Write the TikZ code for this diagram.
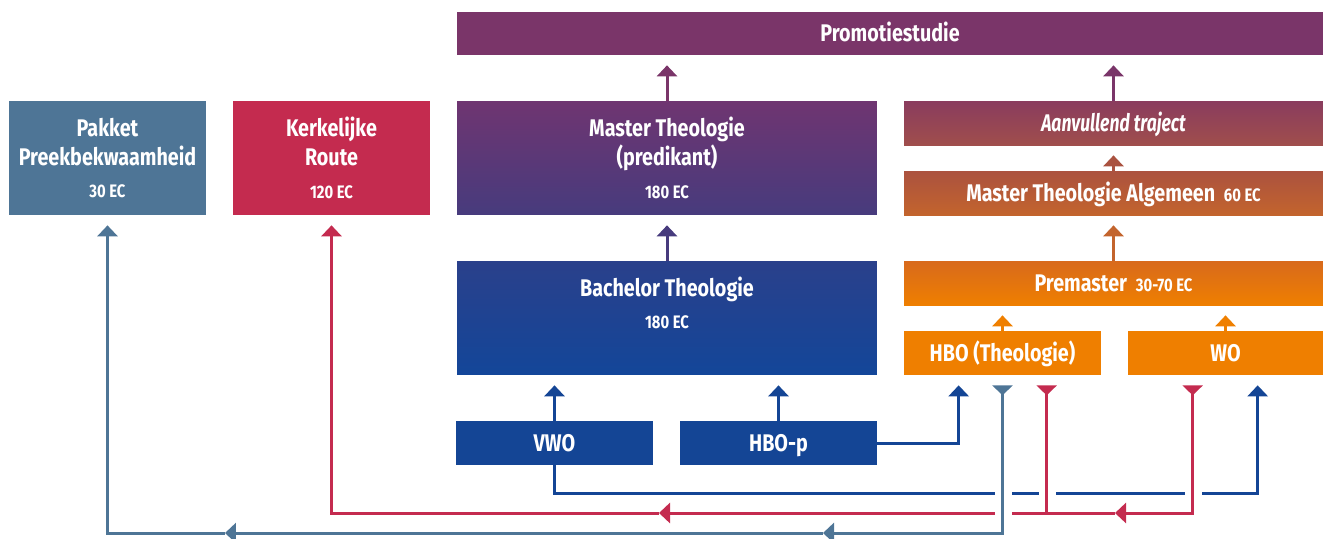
\documentclass[tikz,border=0pt]{standalone}
\usepackage{fontspec}
\setmainfont{Fira Sans}[FakeStretch=0.82]
\newfontfamily\aanvfont{Fira Sans}[FakeStretch=0.73]
\usetikzlibrary{arrows.meta,calc}

\definecolor{promo}{HTML}{7A3569}
\definecolor{steel}{HTML}{4E7596}
\definecolor{crimson}{HTML}{C42B4F}
\definecolor{mastertop}{HTML}{6F3571}
\definecolor{masterbot}{HTML}{473B7D}
\definecolor{bachtop}{HTML}{2A408B}
\definecolor{bachbot}{HTML}{134699}
\definecolor{vwoblue}{HTML}{144595}
\definecolor{aanvtop}{HTML}{8A3C5E}
\definecolor{aanvbot}{HTML}{A04E4C}
\definecolor{mtatop}{HTML}{AB523F}
\definecolor{mtabot}{HTML}{C3642D}
\definecolor{premtop}{HTML}{D86A1C}
\definecolor{hboorange}{HTML}{EF7F00}

\newcommand\ec[1]{{\fontsize{10.3}{12}\selectfont #1 EC}}

\tikzset{
  tri/.tip={Triangle[width=0.4cm,length=0.22cm]},
  rtri/.tip={Triangle[width=0.4cm,length=0.2cm,reversed]},
  box/.style={text=white, font=\bfseries\fontsize{13.7}{16.5}\selectfont,
    align=center, inner sep=0pt},
  bigbox/.style={box, minimum height=2.28cm},
  flatbox/.style={box, minimum height=0.88cm, text height=9.4pt, text depth=0pt},
  line/.style={line width=0.06cm},
  conn/.style={line, -tri, shorten >=0.2cm},
}

\begin{document}
\begin{tikzpicture}[x=0.02cm, y=-0.02cm]
  \useasboundingbox (0,0) rectangle (1323,538);

  % boxes
  \node[flatbox, fill=promo, minimum width=17.32cm, minimum height=0.86cm] (promo) at (890,33.5) {Promotiestudie};
  \node[bigbox, fill=steel, minimum width=3.94cm] (pakket) at (107.5,158) {Pakket\\Preekbekwaamheid\\[2pt]\ec{30}};
  \node[bigbox, fill=crimson, minimum width=3.94cm] (kerk) at (331.5,158) {Kerkelijke\\Route\\[2pt]\ec{120}};
  \node[bigbox, top color=mastertop, bottom color=masterbot, minimum width=8.4cm] (master) at (667,158) {Master Theologie\\(predikant)\\[2pt]\ec{180}};
  \node[bigbox, top color=bachtop, bottom color=bachbot, minimum width=8.4cm, text depth=17.6pt] (bach) at (667,318) {Bachelor Theologie\\[2pt]\ec{180}};
  \node[flatbox, fill=vwoblue, minimum width=3.94cm] (vwo) at (554.5,443) {VWO};
  \node[flatbox, fill=vwoblue, minimum width=3.94cm] (hbop) at (778.5,443) {HBO-p};
  \node[flatbox, top color=aanvtop, bottom color=aanvbot, minimum width=8.38cm, font=\aanvfont\bfseries\itshape\fontsize{13.7}{16.5}\selectfont] (aanv) at (1113.5,123) {Aanvullend traject};
  \node[flatbox, top color=mtatop, bottom color=mtabot, minimum width=8.38cm] (mta) at (1113.5,193) {Master Theologie Algemeen\hspace{5pt}\ec{60}};
  \node[flatbox, top color=premtop, bottom color=hboorange, minimum width=8.38cm] (prem) at (1113.5,283) {Premaster\hspace{5pt}\ec{30-70}};
  \node[flatbox, fill=hboorange, minimum width=3.94cm] (hbot) at (1002.5,353) {HBO (Theologie)};
  \node[flatbox, fill=hboorange, minimum width=3.9cm] (wo) at (1225.5,353) {WO};

  % upward connectors
  \draw[conn, promo] (master.north) -- (master.north |- promo.south);
  \draw[conn, promo] (aanv.north) -- (aanv.north |- promo.south);
  \draw[conn, masterbot] (bach.north) -- (master.south);
  \draw[conn, mtatop!90!aanvbot] (mta.north) -- (aanv.south);
  \draw[conn, mtabot] (prem.north) -- (mta.south);
  \draw[conn, hboorange] (hbot.north) -- (hbot.north |- prem.south);
  \draw[conn, hboorange] (wo.north) -- (wo.north |- prem.south);
  \draw[conn, vwoblue] (vwo.north) -- (vwo.north |- bach.south);
  \draw[conn, vwoblue] (hbop.north) -- (hbop.north |- bach.south);
  \draw[conn, vwoblue] (hbop.east) -| ($(hbot.south west)+(55,0)$);

  % VWO to WO
  \coordinate (wo-in) at ($(wo.south west)+(130,0)$);
  \draw[conn, vwoblue] (vwo.south) -- ++(0,28) -| (wo-in);
  \foreach \gx in {1003,1047,1193}
    \fill[white] (\gx-8.5,490) rectangle (\gx+8.5,496);

  % back to Kerkelijke Route
  \coordinate (wo-red) at ($(wo.south west)+(65,0)$);
  \coordinate (hbot-red) at ($(hbot.south west)+(143,0)$);
  \coordinate (ra) at (1115,513);
  \coordinate (rb) at (659,513);
  \draw[line, crimson, rtri-tri, shorten <=0.2cm] (wo-red) |- (ra);
  \draw[line, crimson, -tri] (ra) -- (rb);
  \draw[conn, crimson] (rb) -| (kerk.south);
  \draw[line, crimson, rtri-, shorten <=0.2cm] (hbot-red) -- (hbot-red |- ra);
  \fill[white] (994.5,510) rectangle (1011.5,516);

  % back to Pakket
  \coordinate (sa) at (823,533);
  \coordinate (sb) at (225,533);
  \draw[line, steel, rtri-tri, shorten <=0.2cm] (hbot.south) |- (sa);
  \draw[line, steel, -tri] (sa) -- (sb);
  \draw[conn, steel] (sb) -| (pakket.south);
\end{tikzpicture}
\end{document}
